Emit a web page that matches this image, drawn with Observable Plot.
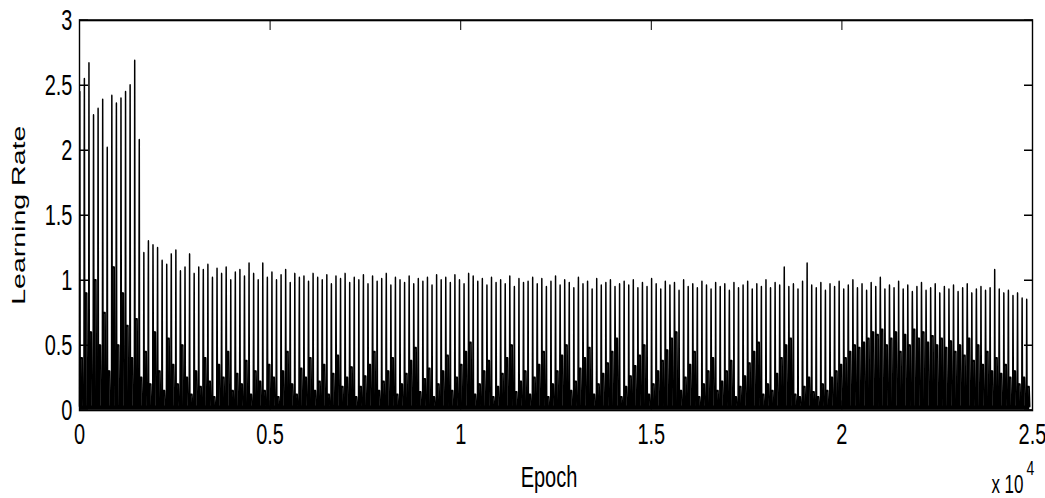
<!DOCTYPE html>
<html>
<head>
<meta charset="utf-8">
<script src="https://cdn.jsdelivr.net/npm/d3@7"></script>
<script src="https://cdn.jsdelivr.net/npm/@observablehq/plot@0.6"></script>
<style>
  html, body { margin: 0; padding: 0; background: white; }
  #chart { width: 1045px; height: 498px; overflow: hidden; }
  #chart svg { display: block; transform: scaleY(1.5); transform-origin: 0 0; }
</style>
</head>
<body>
<div id="chart"></div>
<script>
// ---- data ----
const xTicks = [0, 5000, 10000, 15000, 20000, 25000];
const xTickLabels = ["0", "0.5", "1", "1.5", "2", "2.5"];
const yTicks = [0, 0.5, 1, 1.5, 2, 2.5, 3];
const yTickLabels = ["0", "0.5", "1", "1.5", "2", "2.5", "3"];

const cycleLength = 120;   // epochs between restarts
const floorRate = 0.03;    // trough level between spikes

// spike peak of each cycle
const peaks = [
  2.45, 2.55, 2.67, 2.27, 2.32, 2.39, 2.02, 2.42, 2.36, 2.4, 2.45, 2.5, 2.69, 2.08,
  1.21, 1.30, 1.27, 1.25, 1.15, 1.12, 1.2, 1.23, 1.07, 1.1,
  1.2, 1.05, 1.1, 1.08, 1.12, 1.02, 1.09, 1.05, 1.1, 1.0, 1.06, 1.08, 1.03, 1.13, 1.05, 1.0,
  1.13, 1.02, 1.06, 1.0, 1.04, 1.08, 0.98, 1.05, 1.02, 1.03, 0.99, 1.05, 1.02, 1.0, 1.04, 0.97, 1.03, 1.01, 1.05, 0.98,
  1.02, 1.0, 1.04, 0.97, 1.03, 0.99, 1.01, 1.05, 0.96, 1.02, 1.0, 0.98, 1.03, 0.97, 1.01, 0.99, 1.02, 0.96, 1.04, 1.0,
  1.02, 0.98, 1.04, 1.0, 0.97, 1.05, 1.03, 0.99, 1.01, 0.96, 1.02, 0.98, 1.0, 0.97, 1.03, 0.95, 1.01, 0.98, 0.99, 1.02,
  0.97, 1.01, 0.95, 0.99, 1.03, 0.96, 1.0, 0.98, 0.94, 1.02, 0.97, 0.99, 0.93, 1.01, 0.96, 0.98, 1.0, 0.95, 0.97, 0.99,
  0.96, 1.0, 0.94, 0.98, 0.95, 1.01, 0.97, 0.93, 0.99, 0.96, 0.98, 0.92, 1.0, 0.95, 0.97, 0.94, 0.99, 0.96, 0.93, 0.98,
  0.95, 0.97, 0.92, 0.98, 0.94, 0.96, 0.99, 0.93, 0.97, 0.95, 1.0, 0.94, 0.98, 0.96, 1.1, 0.95, 0.97, 0.93, 0.99, 1.13,
  0.96, 0.94, 0.98, 0.92, 0.97, 0.95, 0.99, 0.93, 0.96, 1.0, 0.94, 0.97, 0.92, 0.98, 0.95, 1.02, 0.93, 0.96, 0.94, 0.99,
  0.93, 0.96, 0.91, 0.95, 0.98, 0.92, 0.94, 0.97, 0.9, 0.95, 0.93, 0.96, 0.91, 0.94, 0.97, 0.9, 0.93, 0.95, 0.92, 0.94,
  1.08, 0.93, 0.9, 0.92, 0.88, 0.9, 0.86, 0.85
];

// level the rate falls back to right after each spike
const shoulders = [
  0.4, 0.9, 0.6, 1.0, 0.5, 0.75, 0.3, 1.1, 0.5, 0.9, 0.65, 0.4, 0.7, 0.25,
  0.45, 0.2, 0.6, 0.3, 0.15, 0.55, 0.35, 0.2, 0.5, 0.25,
  0.12, 0.3, 0.18, 0.4, 0.22, 0.1, 0.35, 0.25, 0.45, 0.15, 0.28, 0.2, 0.38, 0.12, 0.3, 0.22,
  0.15, 0.35, 0.25, 0.1, 0.3, 0.45, 0.2, 0.12, 0.32, 0.25, 0.4, 0.15, 0.22, 0.35, 0.12, 0.28, 0.42, 0.18, 0.25, 0.33,
  0.1, 0.18, 0.26, 0.35, 0.45, 0.15, 0.22, 0.3, 0.4, 0.12, 0.2, 0.28, 0.38, 0.48, 0.14, 0.24, 0.32, 0.1, 0.2, 0.3,
  0.42, 0.15, 0.25, 0.35, 0.45, 0.52, 0.12, 0.2, 0.3, 0.38, 0.1, 0.18, 0.28, 0.4, 0.5, 0.14, 0.22, 0.3, 0.12, 0.25,
  0.35, 0.45, 0.1, 0.2, 0.3, 0.42, 0.5, 0.15, 0.22, 0.32, 0.4, 0.48, 0.12, 0.2, 0.28, 0.36, 0.45, 0.55, 0.1, 0.18,
  0.26, 0.34, 0.42, 0.5, 0.12, 0.2, 0.3, 0.38, 0.46, 0.55, 0.6, 0.15, 0.25, 0.35, 0.45, 0.1, 0.2, 0.3, 0.4, 0.15,
  0.22, 0.3, 0.38, 0.1, 0.18, 0.26, 0.36, 0.45, 0.52, 0.12, 0.2, 0.15, 0.28, 0.4, 0.5, 0.55, 0.12, 0.1, 0.18, 0.25,
  0.14, 0.1, 0.2, 0.15, 0.25, 0.3, 0.35, 0.4, 0.45, 0.5, 0.48, 0.52, 0.55, 0.6, 0.58, 0.62, 0.5, 0.55, 0.6, 0.45,
  0.58, 0.5, 0.62, 0.55, 0.6, 0.52, 0.57, 0.5, 0.55, 0.48, 0.53, 0.45, 0.5, 0.42, 0.55, 0.38, 0.5, 0.35, 0.45, 0.3,
  0.4, 0.28, 0.35, 0.25, 0.3, 0.2, 0.25, 0.18
];

// ---- build the trace: each cycle rises to its peak, drops to its shoulder, then to the floor ----
const trace = [];
peaks.forEach((p, i) => {
  const s = i * cycleLength;
  trace.push({epoch: s, lr: floorRate});
  trace.push({epoch: s + 8, lr: p});
  trace.push({epoch: s + 16, lr: shoulders[i]});
  trace.push({epoch: s + 72, lr: shoulders[i]});
  trace.push({epoch: s + 88, lr: floorRate});
});

const fmtX = d => xTickLabels[xTicks.indexOf(d)];
const fmtY = d => yTickLabels[yTicks.indexOf(d)];
const font = "'Liberation Sans', Arial, Helvetica, sans-serif";

const chart = Plot.plot({
  width: 1045,
  height: 332,
  marginLeft: 79,
  marginRight: 13,
  marginTop: 13,
  marginBottom: 59,
  style: {fontFamily: font, fontSize: "20px", background: "white", color: "black", overflow: "visible"},
  x: {domain: [0, 25000]},
  y: {domain: [0, 3]},
  marks: [
    Plot.areaY(trace, {x: "epoch", y: "lr", fill: "black"}),
    Plot.line(trace, {x: "epoch", y: "lr", stroke: "black", strokeWidth: 1.5}),
    Plot.frame({stroke: "black", strokeWidth: 1.4}),
    Plot.axisX(xTicks, {anchor: "bottom", tickSize: -6, tickPadding: 14, tickFormat: fmtX, fontSize: 20, label: null}),
    Plot.axisX(xTicks, {anchor: "top", tickSize: -6, tickFormat: () => "", label: null}),
    Plot.axisY(yTicks, {anchor: "left", tickSize: -9, tickPadding: 16, tickFormat: fmtY, fontSize: 20, label: null}),
    Plot.axisY(yTicks, {anchor: "right", tickSize: -9, tickFormat: () => "", label: null}),
    Plot.text(["Epoch"], {frameAnchor: "bottom", dx: -7, dy: 51, lineAnchor: "bottom", fontSize: 20, fill: "black"}),
    Plot.text(["Learning Rate"], {frameAnchor: "left", dx: -61, rotate: -90, textAnchor: "middle", lineAnchor: "middle", fontSize: 19, fill: "black"}),
    Plot.text(["x 10"], {frameAnchor: "bottom-right", dx: -9, dy: 55, lineAnchor: "bottom", textAnchor: "end", fontSize: 17, fill: "black"}),
    Plot.text(["4"], {frameAnchor: "bottom-right", dx: -6, dy: 43, lineAnchor: "bottom", textAnchor: "start", fontSize: 14, fill: "black"})
  ]
});

document.getElementById("chart").appendChild(chart);
</script>
</body>
</html>
